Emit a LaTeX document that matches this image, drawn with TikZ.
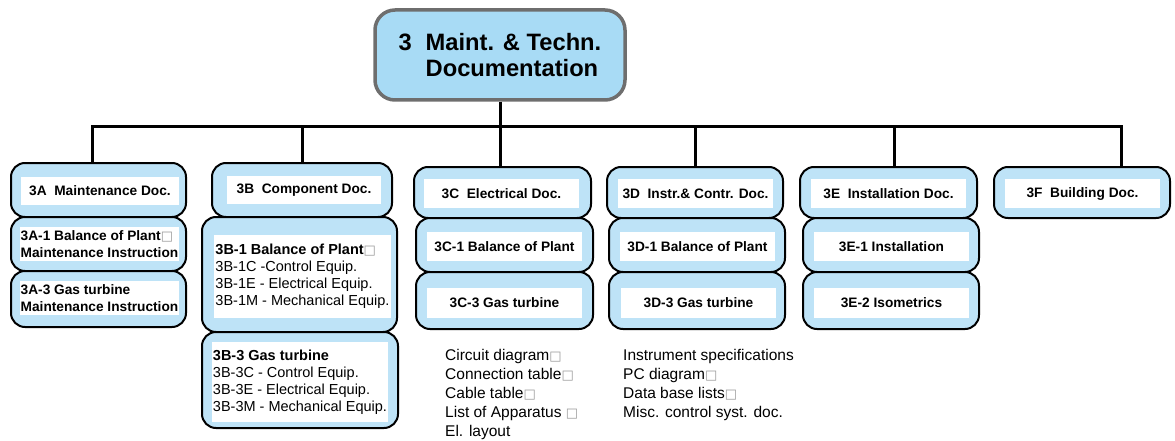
\documentclass[tikz,border=0pt]{standalone}
\usepackage{fontspec}
\setmainfont{Liberation Sans}
\newfontfamily\symfont{DejaVu Sans}
\usepackage{tikz}
\usetikzlibrary{positioning}
\definecolor{cellBlue}{HTML}{BEE3F7}
\definecolor{headBlue}{HTML}{A8DBF5}
\definecolor{headEdge}{HTML}{6E6E6E}
\newcommand{\brk}{{\symfont\fontsize{13}{13}\selectfont\textcolor{gray!80}{□}}}

\begin{document}
\begin{tikzpicture}[
    x=1pt, y=-1pt,
    head/.style={draw=headEdge, line width=3.5pt, rounded corners=20pt, fill=headBlue, minimum width=250pt, minimum height=90pt, align=left, font=\fontsize{23.7}{26}\selectfont\bfseries},
    cell/.style={draw, line width=2pt, rounded corners=14pt, fill=cellBlue, inner sep=0pt},
    lbl/.style={fill=white, inner sep=1pt, minimum width=155pt, minimum height=29pt, align=center, font=\fontsize{13.7}{16.5}\selectfont\bfseries},
    lblList/.style={fill=white, inner sep=1pt, align=left, font=\fontsize{14.5}{17}\selectfont},
    listtext/.style={inner sep=0pt, align=left, font=\fontsize{15.5}{19}\selectfont},
    link/.style={line width=3pt}
]
    \useasboundingbox (0,0) rectangle (1175,441);

    \node[head] (head) at (500,55) {\makebox[27pt][l]{3}Maint. \& Techn.\\\hspace*{27pt}Documentation};
    \coordinate (bus) at (500,127);

    % 3A
    \node[cell, minimum width=175, minimum height=54] (maint) at (98.5,190) {};
    \node[lbl, minimum width=158, minimum height=28] (maintL) at (100,191) {3A\ \ Maintenance Doc.};
    \node[cell, minimum width=175, minimum height=54] (maintBop) at (98.5,244) {};
    \node[lbl, minimum width=157, minimum height=34, align=left] (maintBopL) at (99.5,244) {3A-1 Balance of Plant\brk\\Maintenance Instruction};
    \node[cell, minimum width=175, minimum height=56] (maintGt) at (98.5,299) {};
    \node[lbl, minimum width=157, minimum height=34, align=left] (maintGtL) at (99.5,298) {3A-3 Gas turbine\\Maintenance Instruction};

    % 3B
    \node[cell, minimum width=180, minimum height=54] (comp) at (302,190) {};
    \node[lbl, minimum width=154, minimum height=28] (compL) at (304,190) {3B\ \ Component Doc.};
    \node[cell, minimum width=195, minimum height=115] (compBop) at (299.5,274.5) {};
    \node[lblList, minimum width=175, minimum height=83] (compBopL) at (302.5,276.5) {\textbf{3B-1 Balance of Plant}\brk\\3B-1C -Control Equip.\\3B-1E - Electrical Equip.\\3B-1M - Mechanical Equip.};
    \node[cell, minimum width=196, minimum height=96] (compGt) at (300,380) {};
    \node[lblList, minimum width=170, minimum height=80] (compGtL) at (300,382) {\textbf{3B-3 Gas turbine}\\3B-3C - Control Equip.\\3B-3E - Electrical Equip.\\3B-3M - Mechanical Equip.};

    % 3C
    \node[cell, minimum width=177, minimum height=51] (elec) at (502.5,192.5) {};
    \node[lbl] (elecL) at (501.5,193.5) {3C\ \ Electrical Doc.};
    \node[cell, minimum width=177, minimum height=54] (elecBop) at (504.5,245) {};
    \node[lbl] (elecBopL) at (504.5,246.5) {3C-1 Balance of Plant};
    \node[cell, minimum width=177, minimum height=57] (elecGt) at (504.5,300.5) {};
    \node[lbl, minimum height=30] (elecGtL) at (504.5,303) {3C-3 Gas turbine};
    \node[listtext, anchor=north west] (elecList) at (445,349) {Circuit diagram\brk\\Connection table\brk\\Cable table\brk\\List of Apparatus \brk\\El. layout};

    % 3D
    \node[cell, minimum width=176, minimum height=51] (instr) at (695,192.5) {};
    \node[lbl] (instrL) at (695.5,193.5) {3D\ \ Instr.\& Contr. Doc.};
    \node[cell, minimum width=176, minimum height=54] (instrBop) at (697,245) {};
    \node[lbl] (instrBopL) at (697.5,246.5) {3D-1 Balance of Plant};
    \node[cell, minimum width=176, minimum height=57] (instrGt) at (697,300.5) {};
    \node[lbl, minimum height=30] (instrGtL) at (698.5,303) {3D-3 Gas turbine};
    \node[listtext, anchor=north west] (instrList) at (623,349) {Instrument specifications\\PC diagram\brk\\Data base lists\brk\\Misc. control syst. doc.};

    % 3E
    \node[cell, minimum width=177, minimum height=51] (inst) at (888.5,192.5) {};
    \node[lbl] (instL) at (888.5,193.5) {3E\ \ Installation Doc.};
    \node[cell, minimum width=176, minimum height=54] (instIns) at (891,245) {};
    \node[lbl] (instInsL) at (891.5,246.5) {3E-1 Installation};
    \node[cell, minimum width=176, minimum height=57] (instIso) at (891,300.5) {};
    \node[lbl, minimum height=30] (instIsoL) at (891.5,303) {3E-2 Isometrics};

    % 3F
    \node[cell, minimum width=176, minimum height=51] (bldg) at (1082,192.5) {};
    \node[lbl] (bldgL) at (1082.5,193.5) {3F\ \ Building Doc.};

    % tree
    \draw[link] (head.south) -- (head.south |- elec.north);
    \draw[link] ([xshift=-6]maint.north) |- (bus) -| ([xshift=39]bldg.north);
    \draw[link] (comp.north) -- (comp.north |- bus);
    \draw[link] (instr.north) -- (instr.north |- bus);
    \draw[link] ([xshift=6]inst.north) -- ([xshift=6]inst.north |- bus);
\end{tikzpicture}
\end{document}
